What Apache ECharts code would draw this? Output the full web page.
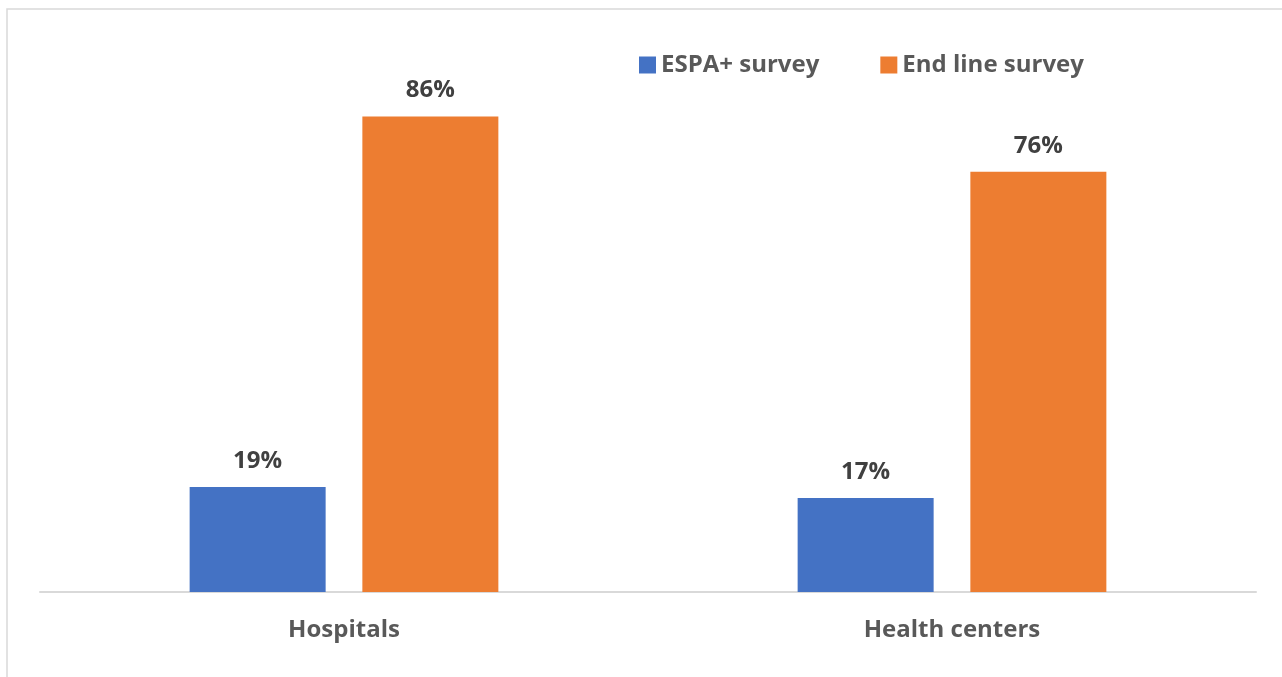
<!DOCTYPE html>
<html>
<head>
<meta charset="utf-8">
<script src="https://cdn.jsdelivr.net/npm/echarts@6/dist/echarts.min.js"></script>
<style>
  html, body { margin: 0; padding: 0; background: #ffffff; }
  #chart { width: 1282px; height: 677px; }
</style>
</head>
<body>
<div id="chart"></div>
<script>
// Facility types on the x axis
const categories = ['Hospitals', 'Health centers'];
// Percentages per survey round
const espaSurvey = [19, 17];
const endLineSurvey = [86, 76];
const seriesNames = ['ESPA+ survey', 'End line survey'];

const FONT = '"Open Sans", "Noto Sans", sans-serif';

const chart = echarts.init(document.getElementById('chart'), null, { renderer: 'canvas' });

const labelStyle = {
  show: true,
  position: 'top',
  distance: 14,
  formatter: p => p.value + '%',
  fontFamily: FONT,
  fontWeight: 'bold',
  fontSize: 24,
  color: '#404040'
};

chart.setOption({
  animation: false,
  backgroundColor: '#ffffff',
  graphic: [{
    type: 'rect',
    shape: { x: 7, y: 9, width: 1300, height: 700 },
    style: { fill: 'none', stroke: '#d9d9d9', lineWidth: 1.5 },
    silent: true,
    z: -1
  }],
  legend: {
    data: seriesNames,
    top: 48,
    left: 634,
    itemWidth: 17,
    itemHeight: 17,
    itemGap: 61,
    icon: 'rect',
    textStyle: { fontFamily: FONT, fontWeight: 'bold', fontSize: 24, color: '#595959' }
  },
  grid: { left: 40, right: 26, top: 39, bottom: 85, containLabel: false },
  xAxis: {
    type: 'category',
    data: categories,
    axisLine: { lineStyle: { color: '#d9d9d9', width: 2 } },
    axisTick: { show: false },
    axisLabel: { fontFamily: FONT, fontWeight: 'bold', fontSize: 24, color: '#595959', margin: 26 }
  },
  yAxis: {
    type: 'value',
    min: 0,
    max: 100,
    show: false,
    splitLine: { show: false }
  },
  series: [
    {
      name: seriesNames[0],
      type: 'bar',
      data: espaSurvey,
      itemStyle: { color: '#4472c4' },
      barWidth: 136,
      barGap: '27%',
      label: labelStyle
    },
    {
      name: seriesNames[1],
      type: 'bar',
      data: endLineSurvey,
      itemStyle: { color: '#ed7d31' },
      barWidth: 136,
      label: labelStyle
    }
  ]
});
</script>
</body>
</html>
